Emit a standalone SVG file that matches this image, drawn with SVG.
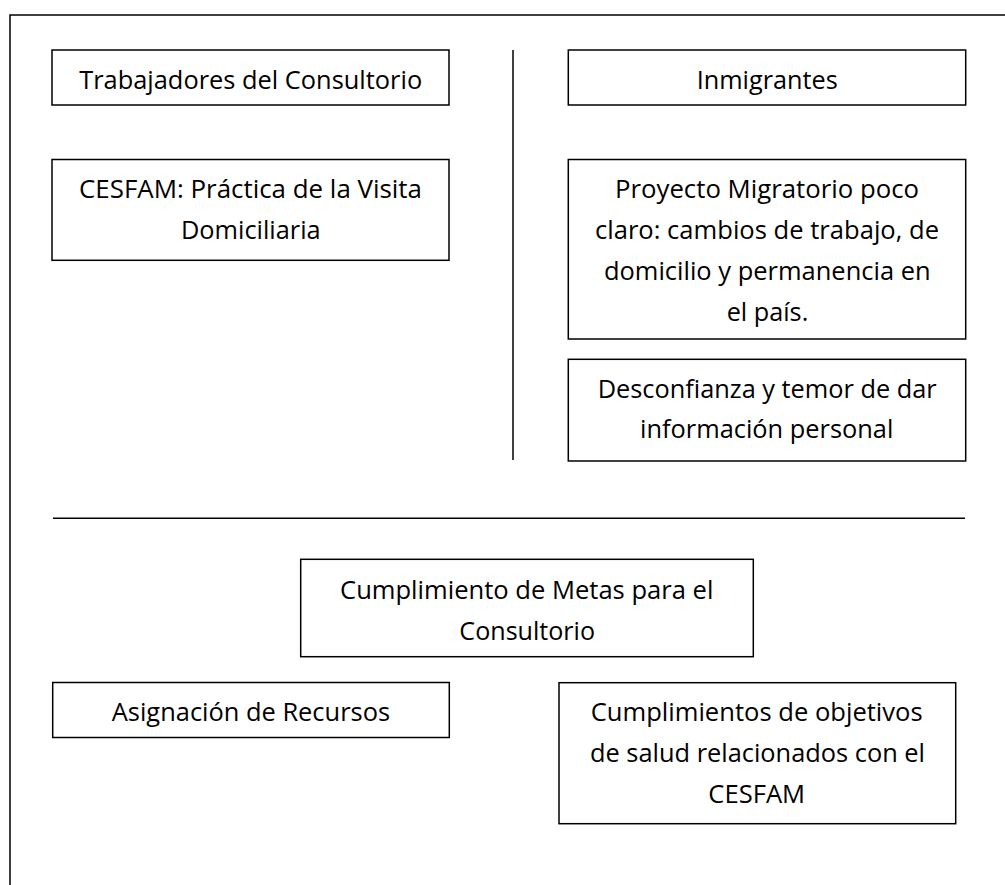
<svg xmlns="http://www.w3.org/2000/svg" width="1005" height="885" viewBox="0 0 1005 885">
<style>
.box{fill:#fff;stroke:#000;stroke-width:1.5}
.ln{fill:none;stroke:#000;stroke-width:1.5}
text{font-family:"Open Sans","Noto Sans","Liberation Sans",sans-serif;font-size:26px;fill:#000;text-anchor:middle}
</style>
<rect width="1005" height="885" fill="#fff"/>
<g id="connectors">
<path class="ln" d="M10,885 V15 H1005"/>
<line class="ln" x1="513" y1="50" x2="513" y2="460"/>
<line class="ln" x1="53" y1="518.3" x2="965" y2="518.3"/>
</g>
<g id="trabajadores">
<rect class="box" x="52" y="50" width="397" height="55"/>
<text x="250.7" y="89.3" textLength="343" lengthAdjust="spacingAndGlyphs">Trabajadores del Consultorio</text>
</g>
<g id="cesfam">
<rect class="box" x="52" y="159.5" width="397" height="100.8"/>
<text x="250.5" y="197.7" textLength="343" lengthAdjust="spacingAndGlyphs">CESFAM: Práctica de la Visita</text>
<text x="250.8" y="238.7" textLength="139.7" lengthAdjust="spacingAndGlyphs">Domiciliaria</text>
</g>
<g id="inmigrantes">
<rect class="box" x="568.3" y="50" width="397.4" height="55"/>
<text x="767.2" y="89.3" textLength="141" lengthAdjust="spacingAndGlyphs">Inmigrantes</text>
</g>
<g id="proyecto">
<rect class="box" x="568.3" y="159.5" width="397.4" height="179.5"/>
<text x="767" y="197.5" textLength="304" lengthAdjust="spacingAndGlyphs">Proyecto Migratorio poco</text>
<text x="767" y="238.8" textLength="344" lengthAdjust="spacingAndGlyphs">claro: cambios de trabajo, de</text>
<text x="767.3" y="280" textLength="326.7" lengthAdjust="spacingAndGlyphs">domicilio y permanencia en</text>
<text x="767.5" y="321.3" textLength="81.6" lengthAdjust="spacingAndGlyphs">el país.</text>
</g>
<g id="desconfianza">
<rect class="box" x="568.3" y="359.3" width="397.4" height="101.7"/>
<text x="767.2" y="397.7" textLength="339" lengthAdjust="spacingAndGlyphs">Desconfianza y temor de dar</text>
<text x="766.7" y="438.3" textLength="253.3" lengthAdjust="spacingAndGlyphs">información personal</text>
</g>
<g id="metas">
<rect class="box" x="300.7" y="559.3" width="452.6" height="97.4"/>
<text x="526.7" y="599" textLength="373.3" lengthAdjust="spacingAndGlyphs">Cumplimiento de Metas para el</text>
<text x="527.2" y="640" textLength="135.7" lengthAdjust="spacingAndGlyphs">Consultorio</text>
</g>
<g id="asignacion">
<rect class="box" x="52.7" y="682.5" width="396.6" height="55"/>
<text x="250.9" y="721" textLength="278.3" lengthAdjust="spacingAndGlyphs">Asignación de Recursos</text>
</g>
<g id="objetivos">
<rect class="box" x="559" y="682.7" width="396.7" height="141"/>
<text x="756.7" y="721" textLength="332" lengthAdjust="spacingAndGlyphs">Cumplimientos de objetivos</text>
<text x="757.5" y="762" textLength="335" lengthAdjust="spacingAndGlyphs">de salud relacionados con el</text>
<text x="756.7" y="803" textLength="96.7" lengthAdjust="spacingAndGlyphs">CESFAM</text>
</g>
</svg>
